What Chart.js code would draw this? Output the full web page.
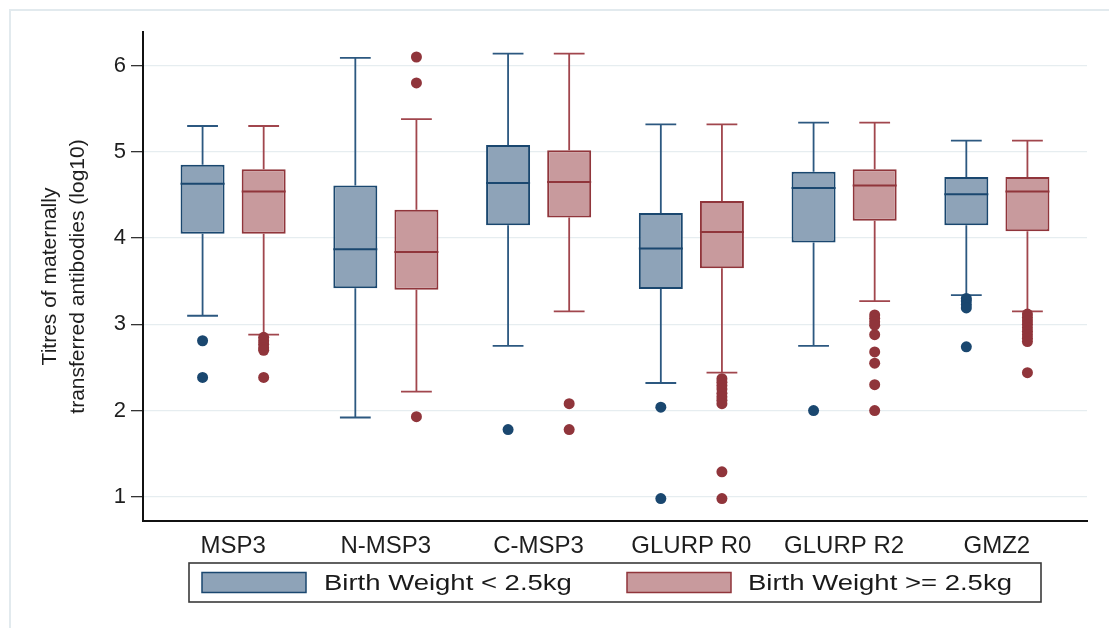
<!DOCTYPE html>
<html>
<head>
<meta charset="utf-8">
<script src="https://cdn.jsdelivr.net/npm/chart.js@4.4.1/dist/chart.umd.min.js"></script>
<style>
html,body{margin:0;padding:0;background:#fff;}
#wrap{width:1109px;height:628px;position:relative;}
</style>
</head>
<body>
<div id="wrap"><canvas id="c" width="1109" height="628"></canvas></div>
<script>
// ---------------- data ----------------
const categories = ['MSP3', 'N-MSP3', 'C-MSP3', 'GLURP R0', 'GLURP R2', 'GMZ2'];
const seriesLabels = ['Birth Weight < 2.5kg', 'Birth Weight >= 2.5kg'];
const yTicks = [1, 2, 3, 4, 5, 6];
const yTitle = ['Titres of maternally', 'transferred antibodies (log10)'];

// Birth weight < 2.5kg
const lowWhiskerMin = [3.10, 1.92, 2.75, 2.32, 2.75, 3.34];
const lowQ1         = [4.05, 3.42, 4.15, 3.41, 3.95, 4.15];
const lowMedian     = [4.63, 3.87, 4.64, 3.88, 4.58, 4.51];
const lowQ3         = [4.85, 4.61, 5.08, 4.29, 4.77, 4.71];
const lowWhiskerMax = [5.30, 6.09, 6.14, 5.32, 5.34, 5.13];
const lowOutliers = [
  [2.81, 2.385],
  [],
  [1.78],
  [2.04, 0.98],
  [2.00],
  [3.30, 3.27, 3.23, 3.19, 2.74]
];

// Birth weight >= 2.5kg
const highWhiskerMin = [2.88, 2.22, 3.15, 2.44, 3.27, 3.15];
const highQ1         = [4.05, 3.40, 4.24, 3.65, 4.20, 4.08];
const highMedian     = [4.54, 3.84, 4.65, 4.07, 4.61, 4.54];
const highQ3         = [4.80, 4.33, 5.02, 4.43, 4.80, 4.71];
const highWhiskerMax = [5.30, 5.38, 6.14, 5.32, 5.34, 5.13];
const highOutliers = [
  [2.85, 2.81, 2.77, 2.73, 2.70, 2.385],
  [6.10, 5.80, 1.93],
  [2.08, 1.78],
  [2.37, 2.33, 2.29, 2.25, 2.20, 2.16, 2.12, 2.08, 1.29, 0.98],
  [3.11, 3.07, 3.03, 2.99, 2.88, 2.68, 2.55, 2.30, 2.00],
  [3.12, 3.08, 3.04, 3.00, 2.96, 2.92, 2.88, 2.84, 2.80, 2.44]
];

// ---------------- style ----------------
const CAT_PCT = 0.8;
const BAR_PCT = 0.72;
const FONT = "'Liberation Sans', Arial, sans-serif";
const styleLow  = {fill: '#8ea3b8', stroke: '#1a476f', whisker: '#2c5880', dot: '#1a476f'};
const styleHigh = {fill: '#c89a9d', stroke: '#90353b', whisker: '#a1464d', dot: '#90353b'};

function boxData(q1, q3) {
  return categories.map((c, i) => ({x: i, y: [q1[i], q3[i]]}));
}
function outlierData(list, shift) {
  const pts = [];
  list.forEach((arr, i) => arr.forEach(v => pts.push({x: i + shift, y: v})));
  return pts;
}
const shift = CAT_PCT / 4;

const datasets = [
  {
    type: 'bar', label: seriesLabels[0], data: boxData(lowQ1, lowQ3),
    backgroundColor: styleLow.fill, borderColor: styleLow.stroke, borderWidth: 2, borderSkipped: false,
    categoryPercentage: CAT_PCT, barPercentage: BAR_PCT,
    stats: {min: lowWhiskerMin, med: lowMedian, max: lowWhiskerMax}, st: styleLow, order: 2
  },
  {
    type: 'bar', label: seriesLabels[1], data: boxData(highQ1, highQ3),
    backgroundColor: styleHigh.fill, borderColor: styleHigh.stroke, borderWidth: 2, borderSkipped: false,
    categoryPercentage: CAT_PCT, barPercentage: BAR_PCT,
    stats: {min: highWhiskerMin, med: highMedian, max: highWhiskerMax}, st: styleHigh, order: 2
  },
  {
    type: 'scatter', label: seriesLabels[0] + ' outliers', data: outlierData(lowOutliers, -shift),
    backgroundColor: styleLow.dot, borderWidth: 0, pointRadius: 5.5, pointHoverRadius: 5.5, showLine: false, order: 1
  },
  {
    type: 'scatter', label: seriesLabels[1] + ' outliers', data: outlierData(highOutliers, shift),
    backgroundColor: styleHigh.dot, borderWidth: 0, pointRadius: 5.5, pointHoverRadius: 5.5, showLine: false, order: 1
  }
];

// ---------------- plugins ----------------
const framePlugin = {
  id: 'frame',
  beforeDraw(chart) {
    const ctx = chart.ctx;
    ctx.save();
    ctx.fillStyle = '#ffffff';
    ctx.fillRect(0, 0, chart.width, chart.height);
    ctx.strokeStyle = '#e2eaee';
    ctx.lineWidth = 2;
    ctx.beginPath();
    ctx.moveTo(10, chart.height);
    ctx.lineTo(10, 10);
    ctx.lineTo(chart.width, 10);
    ctx.stroke();
    ctx.restore();
  }
};

function eachBox(chart, fn) {
  const yScale = chart.scales.y;
  [0, 1].forEach(d => {
    const ds = chart.data.datasets[d];
    const meta = chart.getDatasetMeta(d);
    meta.data.forEach((bar, i) => fn(chart.ctx, bar, i, ds, yScale));
  });
}

const whiskerPlugin = {
  id: 'whiskers',
  beforeDatasetsDraw(chart) {
    eachBox(chart, (ctx, bar, i, ds, ys) => {
      const x = bar.x;
      const capHalf = bar.width * 0.35;
      const yMax = ys.getPixelForValue(ds.stats.max[i]);
      const yMin = ys.getPixelForValue(ds.stats.min[i]);
      const yQ3 = ys.getPixelForValue(ds.data[i].y[1]);
      const yQ1 = ys.getPixelForValue(ds.data[i].y[0]);
      ctx.save();
      ctx.strokeStyle = ds.st.whisker;
      ctx.lineWidth = 1.8;
      ctx.beginPath();
      ctx.moveTo(x, yQ3); ctx.lineTo(x, yMax);
      ctx.moveTo(x - capHalf, yMax); ctx.lineTo(x + capHalf, yMax);
      ctx.moveTo(x, yQ1); ctx.lineTo(x, yMin);
      ctx.moveTo(x - capHalf, yMin); ctx.lineTo(x + capHalf, yMin);
      ctx.stroke();
      ctx.restore();
    });
  },
  afterDatasetsDraw(chart) {
    eachBox(chart, (ctx, bar, i, ds, ys) => {
      const yMed = ys.getPixelForValue(ds.stats.med[i]);
      ctx.save();
      ctx.strokeStyle = ds.st.stroke;
      ctx.lineWidth = 2;
      ctx.beginPath();
      ctx.moveTo(bar.x - bar.width / 2, yMed);
      ctx.lineTo(bar.x + bar.width / 2, yMed);
      ctx.stroke();
      ctx.restore();
    });
  }
};

const legendPlugin = {
  id: 'boxLegend',
  afterDraw(chart) {
    const ctx = chart.ctx;
    const ca = chart.chartArea;
    const cx = (ca.left + ca.right) / 2;
    const fw = 852, top = 563, h = 39;
    const left = cx - fw / 2;
    ctx.save();
    ctx.strokeStyle = '#3a3a3a';
    ctx.lineWidth = 1.6;
    ctx.strokeRect(left, top, fw, h);
    const items = [
      {sw: 13, tx: 135, ds: chart.data.datasets[0]},
      {sw: 438, tx: 559, ds: chart.data.datasets[1]}
    ];
    items.forEach(it => {
      ctx.fillStyle = it.ds.backgroundColor;
      ctx.fillRect(left + it.sw, top + 9.5, 104, 20);
      ctx.strokeStyle = it.ds.borderColor;
      ctx.lineWidth = 1.5;
      ctx.strokeRect(left + it.sw, top + 9.5, 104, 20);
      ctx.save();
      ctx.translate(left + it.tx, top + h / 2 + 1);
      ctx.scale(1.25, 1);
      ctx.fillStyle = '#1a1a1a';
      ctx.font = '22px ' + FONT;
      ctx.textAlign = 'left';
      ctx.textBaseline = 'middle';
      ctx.fillText(it.ds.label, 0, 0);
      ctx.restore();
    });
    ctx.restore();
  }
};

// ---------------- chart ----------------
new Chart(document.getElementById('c'), {
  type: 'bar',
  data: {datasets},
  plugins: [framePlugin, whiskerPlugin, legendPlugin],
  options: {
    responsive: false,
    animation: false,
    devicePixelRatio: 1,
    layout: {padding: {left: 0, right: 22, top: 32, bottom: 70}},
    plugins: {legend: {display: false}, tooltip: {enabled: false}},
    scales: {
      x: {
        type: 'linear', min: -0.59, max: 5.59, offset: false,
        afterBuildTicks: s => { s.ticks = categories.map((c, i) => ({value: i})); },
        afterFit: s => { s.height = 37; },
        grid: {display: false, offset: false},
        border: {display: true, color: '#111', width: 2},
        ticks: {
          autoSkip: false, maxRotation: 0, padding: 3, color: '#1e1e1e',
          font: {family: FONT, size: 24},
          callback: v => categories[Math.round(v)]
        }
      },
      y: {
        type: 'linear', min: 0.72, max: 6.39,
        afterBuildTicks: s => { s.ticks = yTicks.map(v => ({value: v})); },
        afterFit: s => { s.width = 143; },
        grid: {color: '#e6edf0', lineWidth: 1.3, tickColor: '#333', tickLength: 12, drawTicks: true},
        border: {display: true, color: '#111', width: 2},
        ticks: {padding: 5, color: '#1e1e1e', font: {family: FONT, size: 22}},
        title: {
          display: true, text: yTitle, color: '#1e1e1e',
          font: {family: FONT, size: 21, lineHeight: 1.33},
          padding: {top: 36, bottom: 0}
        }
      }
    }
  }
});
</script>
</body>
</html>
